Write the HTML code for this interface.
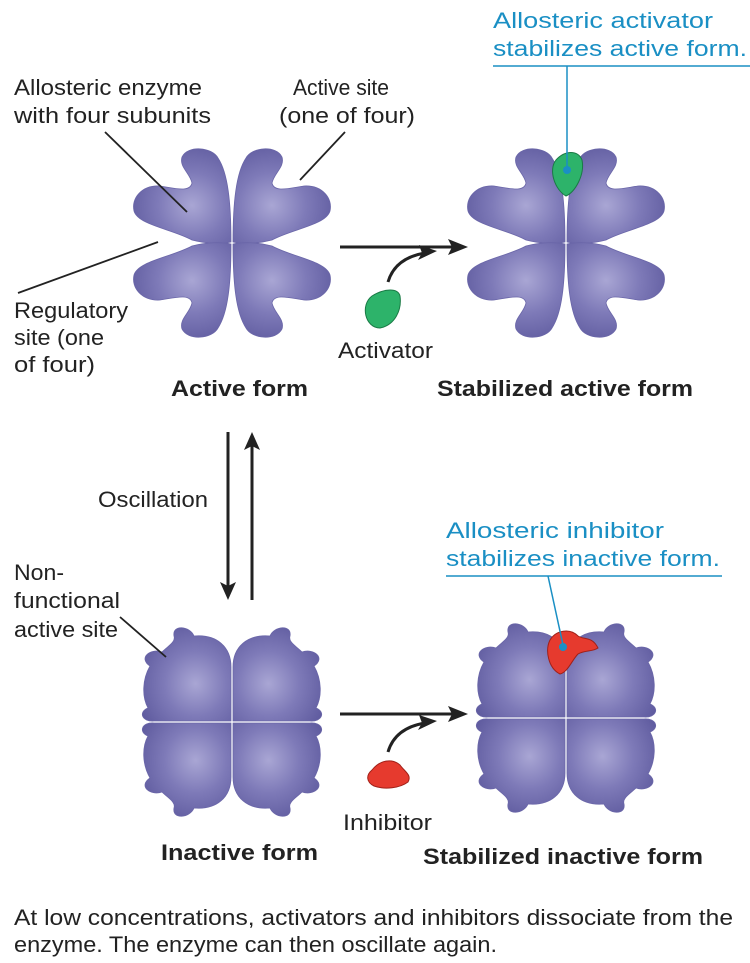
<!DOCTYPE html>
<html><head><meta charset="utf-8"><style>
body{margin:0;background:#fff}
svg{display:block}
text{font-family:"Liberation Sans",sans-serif;font-size:22px;fill:#222}
.b{font-weight:bold}
.bl{fill:#1a8fc4}
</style></head><body>
<svg width="750" height="963" viewBox="0 0 750 963">
<defs>
<radialGradient id="g" cx="0.6" cy="0.6" r="0.7">
<stop offset="0" stop-color="#a9a6d4"/><stop offset="0.5" stop-color="#7e7ab8"/><stop offset="1" stop-color="#5e5a9e"/>
</radialGradient>
<path id="a" d="M-1,-1 C-1,-40 -4,-70 -14,-85 C-20,-96 -44,-98 -50,-86 C-53,-76 -42,-70 -40,-60 C-42,-50 -58,-55 -72,-57 C-90,-58 -101,-45 -98,-32 C-94,-18 -60,-14 -40,-3 C-25,1 -10,1 -1,-1Z" fill="url(#g)" stroke="#6a66a8" stroke-width="0.8"/>
<path id="n" d="M-1,-1 L-1,-55 C-1,-75 -15,-88 -38,-86 C-42,-96 -60,-98 -58,-86 C-56,-80 -64,-76 -70,-70 C-82,-74 -94,-64 -82,-56 C-90,-42 -90,-25 -84,-14 C-94,-10 -90,0 -78,-1 Z" fill="url(#g)" stroke="#6a66a8" stroke-width="0.8"/>
</defs>
<g transform="translate(232,243)"><use href="#a"/><use href="#a" transform="scale(-1,1)"/><use href="#a" transform="scale(1,-1)"/><use href="#a" transform="scale(-1,-1)"/></g>
<g transform="translate(566,243)"><use href="#a"/><use href="#a" transform="scale(-1,1)"/><use href="#a" transform="scale(1,-1)"/><use href="#a" transform="scale(-1,-1)"/></g>
<g transform="translate(232,722)"><use href="#n"/><use href="#n" transform="scale(-1,1)"/><use href="#n" transform="scale(1,-1)"/><use href="#n" transform="scale(-1,-1)"/></g>
<g transform="translate(566,718)"><use href="#n"/><use href="#n" transform="scale(-1,1)"/><use href="#n" transform="scale(1,-1)"/><use href="#n" transform="scale(-1,-1)"/></g>
<g stroke="#222" stroke-width="1.8" fill="none">
<line x1="105" y1="132" x2="187" y2="212"/><line x1="345" y1="132" x2="300" y2="180"/><line x1="18" y1="293" x2="158" y2="242"/>
<line x1="120" y1="617" x2="166" y2="657"/>
<line x1="340" y1="247" x2="455" y2="247" stroke-width="3"/><line x1="340" y1="714" x2="455" y2="714" stroke-width="3"/>
<path d="M388,282 Q395,258 425,253" stroke-width="3"/><path d="M388,752 Q395,728 425,723" stroke-width="3"/>
<line x1="228" y1="432" x2="228" y2="588" stroke-width="3"/><line x1="252" y1="444" x2="252" y2="600" stroke-width="3"/>
</g>
<g fill="#222">
<polygon points="468,247 448,239 452,247 448,255"/><polygon points="468,714 448,706 452,714 448,722"/>
<polygon points="437,251 419,245 422,253 418,260"/><polygon points="437,721 419,715 422,723 418,730"/>
<polygon points="228,600 220,582 228,586 236,582"/><polygon points="252,432 244,450 252,446 260,450"/>
</g>
<path d="M372,296 C385,288 398,288 400,296 C402,310 395,325 380,328 C365,328 360,305 372,296Z" fill="#2db36a" stroke="#1a7a45"/>
<path d="M556,160 C565,150 578,150 582,160 C585,175 575,192 566,196 C555,190 548,170 556,160Z" fill="#2db36a" stroke="#1a7a45"/>
<path d="M372,770 C380,760 392,758 400,765 C405,772 412,775 408,782 C400,788 385,790 374,786 C366,782 366,775 372,770Z" fill="#e63a2e" stroke="#a02018"/>
<path d="M550,640 C556,630 570,628 578,636 C584,640 592,636 598,648 C592,652 585,650 578,654 C572,660 568,672 560,674 C548,668 545,650 550,640Z" fill="#e63a2e" stroke="#a02018"/>
<g stroke="#1a8fc4" stroke-width="1.5"><line x1="493" y1="66" x2="750" y2="66"/><line x1="567" y1="66" x2="567" y2="168"/><line x1="446" y1="576" x2="722" y2="576"/><line x1="548" y1="576" x2="563" y2="645"/></g>
<circle cx="567" cy="170" r="4" fill="#1a8fc4"/><circle cx="563" cy="647" r="4" fill="#1a8fc4"/>
<g>
<text x="14" y="95" textLength="188" lengthAdjust="spacingAndGlyphs">Allosteric enzyme</text>
<text x="14" y="123" textLength="197" lengthAdjust="spacingAndGlyphs">with four subunits</text>
<text x="293" y="95" textLength="96" lengthAdjust="spacingAndGlyphs">Active site</text>
<text x="279" y="123" textLength="136" lengthAdjust="spacingAndGlyphs">(one of four)</text>
<text x="14" y="318" textLength="114" lengthAdjust="spacingAndGlyphs">Regulatory</text>
<text x="14" y="345" textLength="90" lengthAdjust="spacingAndGlyphs">site (one</text>
<text x="14" y="372" textLength="81" lengthAdjust="spacingAndGlyphs">of four)</text>
<text x="338" y="358" textLength="95" lengthAdjust="spacingAndGlyphs">Activator</text>
<text x="171" y="396" class="b" textLength="137" lengthAdjust="spacingAndGlyphs">Active form</text>
<text x="437" y="396" class="b" textLength="256" lengthAdjust="spacingAndGlyphs">Stabilized active form</text>
<text x="493" y="28" class="bl" textLength="220" lengthAdjust="spacingAndGlyphs">Allosteric activator</text>
<text x="493" y="56" class="bl" textLength="254" lengthAdjust="spacingAndGlyphs">stabilizes active form.</text>
<text x="98" y="507" textLength="110" lengthAdjust="spacingAndGlyphs">Oscillation</text>
<text x="14" y="580" textLength="50" lengthAdjust="spacingAndGlyphs">Non-</text>
<text x="14" y="608" textLength="106" lengthAdjust="spacingAndGlyphs">functional</text>
<text x="14" y="637" textLength="104" lengthAdjust="spacingAndGlyphs">active site</text>
<text x="446" y="538" class="bl" textLength="218" lengthAdjust="spacingAndGlyphs">Allosteric inhibitor</text>
<text x="446" y="566" class="bl" textLength="274" lengthAdjust="spacingAndGlyphs">stabilizes inactive form.</text>
<text x="343" y="830" textLength="89" lengthAdjust="spacingAndGlyphs">Inhibitor</text>
<text x="161" y="860" class="b" textLength="157" lengthAdjust="spacingAndGlyphs">Inactive form</text>
<text x="423" y="864" class="b" textLength="280" lengthAdjust="spacingAndGlyphs">Stabilized inactive form</text>
<text x="14" y="925" textLength="719" lengthAdjust="spacingAndGlyphs">At low concentrations, activators and inhibitors dissociate from the</text>
<text x="14" y="952" textLength="483" lengthAdjust="spacingAndGlyphs">enzyme. The enzyme can then oscillate again.</text>
</g>
</svg>
</body></html>
